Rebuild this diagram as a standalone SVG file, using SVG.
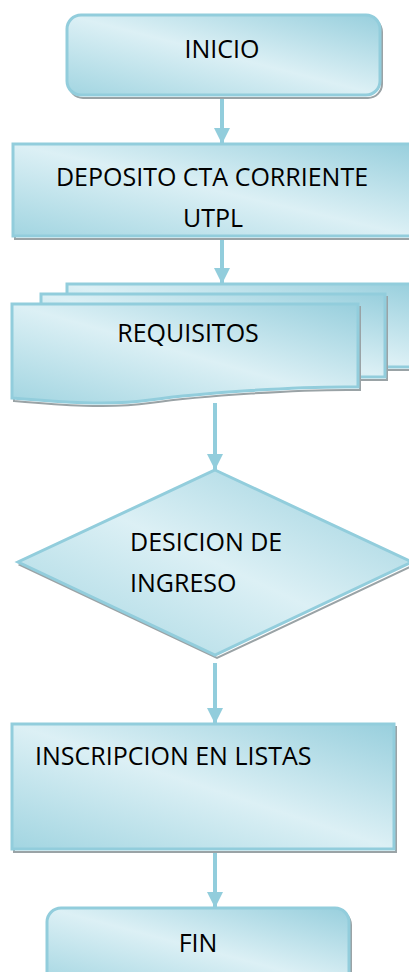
<svg xmlns="http://www.w3.org/2000/svg" width="409" height="972" viewBox="0 0 409 972">
  <defs>
    <linearGradient id="g" x1="1" y1="0" x2="0" y2="1">
      <stop offset="0" stop-color="#98cfdd"/>
      <stop offset="0.5" stop-color="#dcf0f5"/>
      <stop offset="1" stop-color="#a2d5e1"/>
    </linearGradient>
    <marker id="ah" markerUnits="userSpaceOnUse" markerWidth="16" markerHeight="16" refX="16" refY="8" orient="auto">
      <path d="M0,0 L16,8 L0,16 Z" fill="#92cddc"/>
    </marker>
  </defs>
  <style>
    .shape { fill: url(#g); stroke: #92cddc; stroke-width: 3; }
    .shadow { fill: #ffffff; stroke: #9aa3a6; stroke-width: 2; }
    .lbl { font-family: "Open Sans", "Liberation Sans", sans-serif; font-size: 25px; fill: #000000; }
    .conn { stroke: #92cddc; stroke-width: 4; fill: none; }
  </style>
  <rect width="409" height="972" fill="#ffffff"/>

  <g id="connectors">
    <line class="conn" x1="222" y1="97" x2="222" y2="144" marker-end="url(#ah)"/>
    <line class="conn" x1="222" y1="237" x2="222" y2="284" marker-end="url(#ah)"/>
    <line class="conn" x1="215" y1="403" x2="215" y2="470" marker-end="url(#ah)"/>
    <line class="conn" x1="215" y1="663" x2="215" y2="724" marker-end="url(#ah)"/>
    <line class="conn" x1="215" y1="850" x2="215" y2="908" marker-end="url(#ah)"/>
  </g>

  <g id="inicio">
    <rect class="shadow" x="69" y="18" width="313" height="80" rx="14"/>
    <rect class="shape" x="67" y="15" width="313" height="80" rx="14"/>
    <text class="lbl" x="222" y="58" text-anchor="middle">INICIO</text>
  </g>

  <g id="deposito">
    <rect class="shadow" x="15" y="147" width="400" height="92"/>
    <rect class="shape" x="13" y="144" width="400" height="92"/>
    <text class="lbl" x="212" y="186" text-anchor="middle">DEPOSITO CTA CORRIENTE</text>
    <text class="lbl" x="213" y="227" text-anchor="middle">UTPL</text>
  </g>

  <g id="requisitos">
    <rect class="shadow" x="69" y="287" width="345" height="83"/>
    <rect class="shape" x="67" y="284" width="345" height="83"/>
    <rect class="shadow" x="43" y="297" width="344" height="83"/>
    <rect class="shape" x="41" y="294" width="344" height="83"/>
    <path class="shadow" d="M14,307 L360,307 L360,390 C300,389 200,396 150,403 C110,409 60,405 14,401 Z"/>
    <path class="shape" d="M12,304 L358,304 L358,387 C300,386 200,393 150,400 C110,406 60,402 12,398 Z"/>
    <text class="lbl" x="188" y="342" text-anchor="middle">REQUISITOS</text>
  </g>

  <g id="decision">
    <polygon class="shadow" points="217,473 414,565 217,658 20,565"/>
    <polygon class="shape" points="215,470 412,562 215,655 18,562"/>
    <text class="lbl" x="130" y="551">DESICION DE</text>
    <text class="lbl" x="130" y="592">INGRESO</text>
  </g>

  <g id="inscripcion">
    <rect class="shadow" x="14" y="727" width="382" height="125"/>
    <rect class="shape" x="12" y="724" width="382" height="125"/>
    <text class="lbl" x="35" y="765">INSCRIPCION EN LISTAS</text>
  </g>

  <g id="fin">
    <rect class="shadow" x="49" y="911" width="302" height="80" rx="14"/>
    <rect class="shape" x="47" y="908" width="302" height="80" rx="14"/>
    <text class="lbl" x="198" y="952" text-anchor="middle">FIN</text>
  </g>
</svg>
